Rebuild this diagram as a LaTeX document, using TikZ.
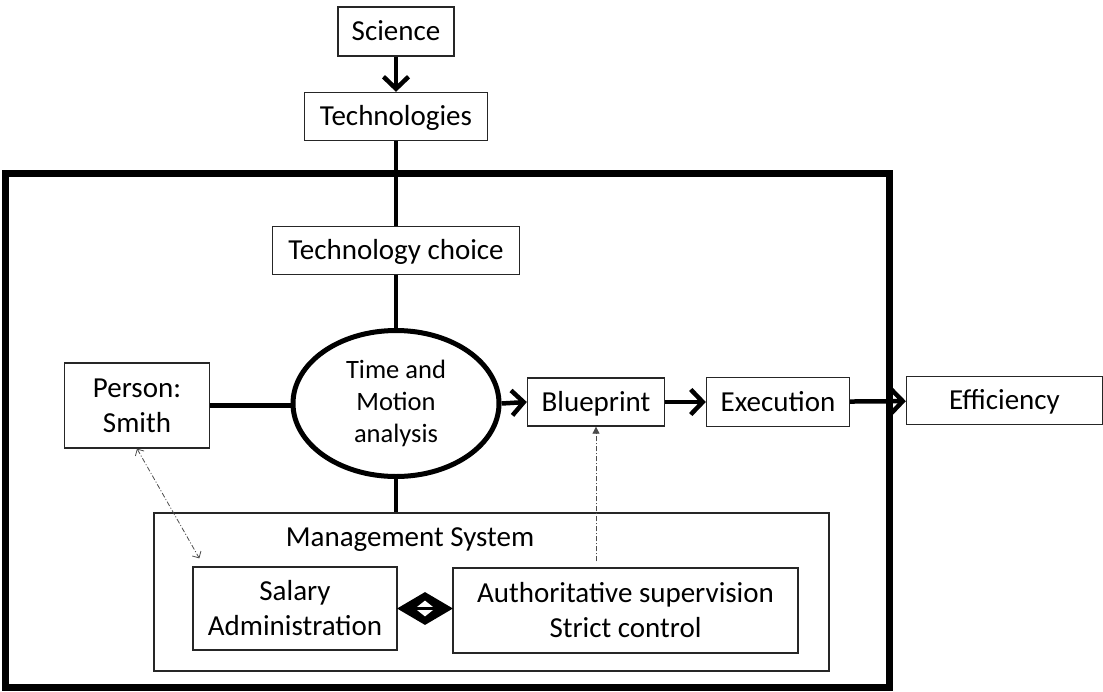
\documentclass[tikz,border=0pt]{standalone}
\usepackage{fontspec}
\setmainfont{Carlito}
\usepackage{tikz}
\usetikzlibrary{shapes.geometric, arrows.meta}
\newcommand{\boxfont}{\fontsize{29}{35}\selectfont}
\newcommand{\ovalfont}{\fontsize{26.5}{32}\selectfont}
\tikzstyle{box} = [rectangle, 
draw=black!85, 
line width=1.3pt, 
minimum height=48pt, 
inner sep=0pt, 
text centered, 
align=center, 
font=\boxfont]
\tikzstyle{oneline} = [text height=22pt, text depth=4pt]
\tikzstyle{analysis} = [ellipse, 
draw=black, 
line width=5pt, 
minimum width=206pt, 
minimum height=146pt, 
inner sep=0pt, 
align=center, 
font=\ovalfont]
\tikzstyle{frame} = [draw=black, line width=7pt]
\tikzstyle{link} = [line width=4pt]
\tikzstyle{arrow} = [line width=4.5pt, -{Straight Barb[length=12pt, width=25pt]}]
\tikzstyle{dotarrow} = [line width=0.8pt, draw=black!70, 
dash pattern=on 5pt off 2pt on 1pt off 2pt]

\begin{document}
\begin{tikzpicture}[x=1pt, y=-1pt, node distance=85pt]
\useasboundingbox (0,0) rectangle (1103,691);

\draw [frame] (5,173.5) rectangle (889.5,687.5);

\node (science) [box, oneline, minimum width=116pt, minimum height=49pt] at (396,31.5) {Science};
\node (tech) [box, oneline, below of=science, minimum width=183pt] {Technologies};
\node (choice) [box, oneline, below of=tech, yshift=-49pt, minimum width=247pt] {Technology choice};
\node (tam) [analysis, below of=choice, yshift=-68pt] {Time and\\Motion\\analysis};

\node (person) [box, left of=tam, xshift=-174pt, yshift=-2pt, minimum width=145pt, minimum height=85pt] {Person:\\Smith};
\node (blueprint) [box, oneline, right of=tam, xshift=115pt, yshift=1.5pt, minimum width=137pt] {Blueprint};
\node (execution) [box, oneline, right of=blueprint, xshift=97pt, minimum width=143pt, minimum height=49pt] {Execution};
\node (efficiency) [box, oneline, right of=execution, xshift=141.5pt, yshift=1.5pt, minimum width=196pt] {Efficiency};

\node (mgmt) [box, minimum width=675pt, minimum height=158pt] at (491.5,592) {};
\node (mgmttitle) [font=\boxfont, inner sep=0pt] at (410,540) {Management System};
\node (salary) [box, minimum width=204pt, minimum height=83pt] at (295,608.5) {Salary\\Administration};
\node (auth) [box, minimum width=345pt, minimum height=85pt] at (625.5,610.5) {Authoritative supervision\\Strict control};

% two-way link between salary and supervision
\node (linkmark) [diamond, fill=black, minimum width=56pt, minimum height=33pt, inner sep=0pt] at (425,608.5) {};
\node (linkhole) [diamond, fill=white, minimum width=20pt, minimum height=16pt, inner sep=0pt] at (linkmark.center) {};
\draw [line width=3.5pt, line cap=round] ([xshift=-9pt]linkhole.center) -- ([xshift=9pt]linkhole.center);

\coordinate (supfoot) at ([yshift=6pt]auth.north -| blueprint.south);

\draw [arrow] (science) -- (tech);
\draw [link, line width=4.5pt] (tech.south) -- (tech.south |- choice.north);
\draw [link, line width=4.5pt] (choice.south -| tam.north) -- (tam.north);
\draw [link, line width=4.5pt] (person.east) -- (person.east -| tam.west);
\draw [link] (tam.south) -- (tam.south |- mgmt.north);
\draw [arrow] (tam.east) -- (blueprint.west);
\draw [arrow] (blueprint) -- (execution);
\draw [arrow] (execution) -- (efficiency);
\draw [dotarrow, {Straight Barb[length=5pt, width=10pt]}-{Straight Barb[length=5pt, width=10pt]}] (person.south) -- ([xshift=7pt, yshift=8pt]salary.north west);
\draw [dotarrow, -{Triangle[length=7pt, width=7pt]}] (supfoot) -- (blueprint.south);

\end{tikzpicture}
\end{document}
